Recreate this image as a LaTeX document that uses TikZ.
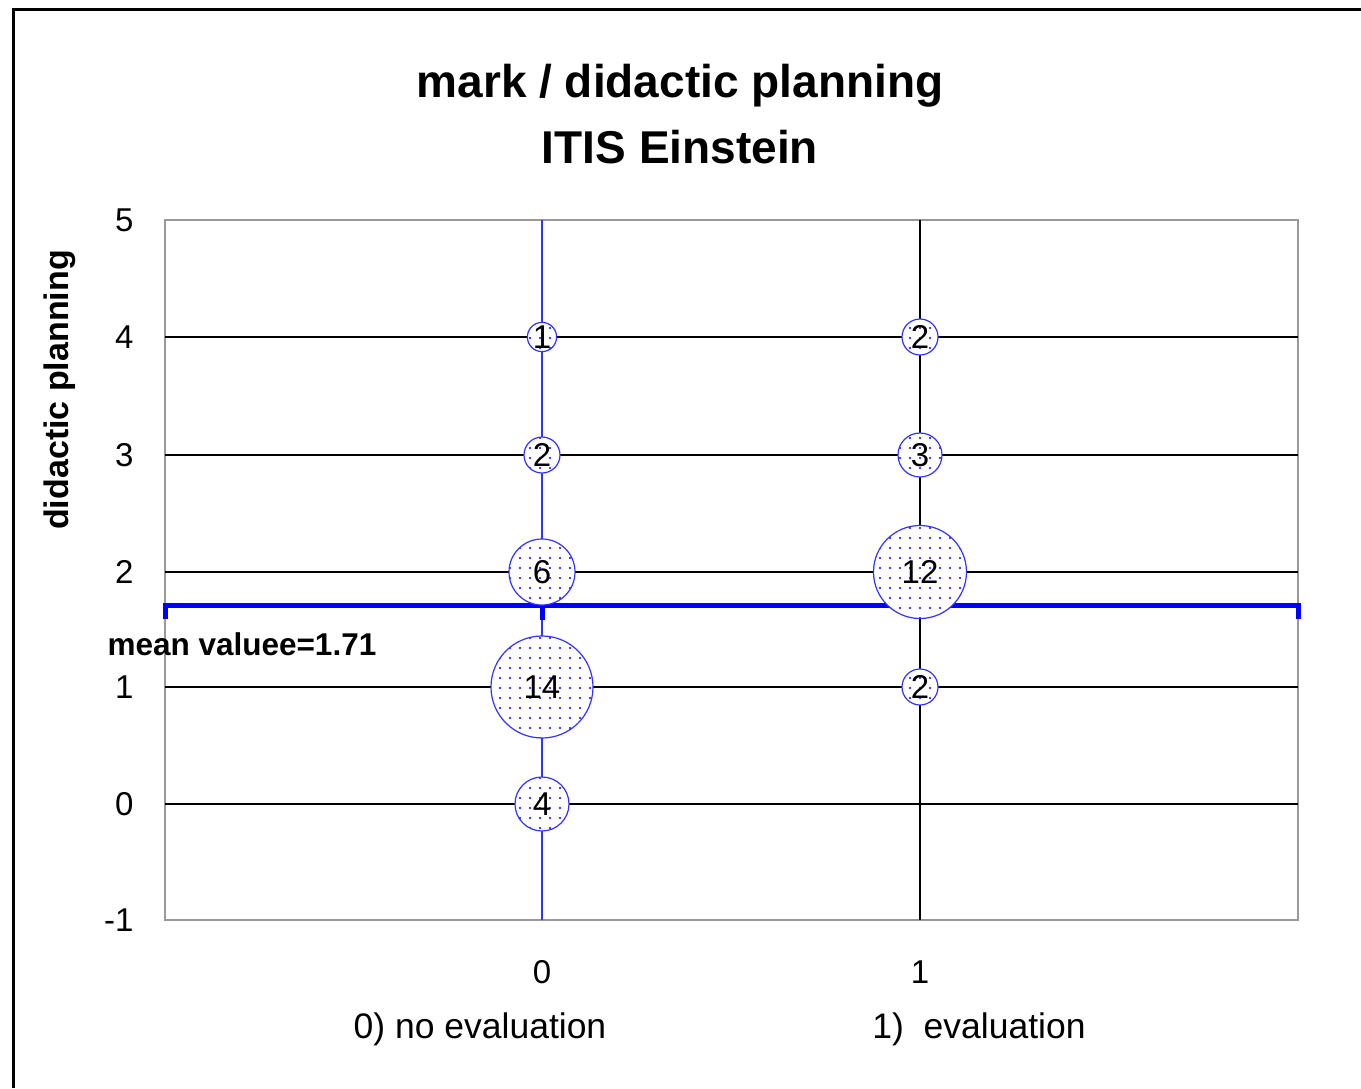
\documentclass[tikz,border=0pt]{standalone}
\usepackage{fontspec}
\setmainfont{Liberation Sans}
\usetikzlibrary{patterns.meta}
\begin{document}
\begin{tikzpicture}[x=1pt,y=-1pt,
  grid/.style={black, line width=1.3pt},
  bubble/.style={circle, draw=blue!80!white, line width=1.2pt, inner sep=0pt,
    preaction={fill=white}, pattern={Dots[radius=1.2pt,distance=10pt]}, pattern color=blue,
    font=\fontsize{33}{33}\selectfont},
  ticklab/.style={font=\fontsize{33}{33}\selectfont},
  catlab/.style={font=\fontsize{35.5}{35.5}\selectfont},
  meanline/.style={blue, line width=5pt}]
\useasboundingbox (0,0) rectangle (1361,1088);
\fill[white] (0,0) rectangle (1361,1088);
% outer frame
\draw[black, line width=3pt] (13,1088) -- (13,9) -- (1361,9);
% title
\node (title) at (680,86) {\fontsize{46}{46}\selectfont\bfseries mark / didactic planning};
\node (title2) at (680,147) {\fontsize{46}{46}\selectfont\bfseries ITIS Einstein};
% plot area
\draw[gray!80, line width=1.5pt] (165,220) rectangle (1298,920);
% horizontal gridlines
\foreach \v/\y in {4/337,3/455,2/572,1/687,0/804}{
  \draw[grid] (165,\y) -- (1298,\y);
}
\draw[blue!80!white, line width=1.3pt] (542,220) -- (542,920);
\draw[grid] (920,220) -- (920,920);
% y tick labels
\foreach \v/\y in {5/220,4/337,3/455,2/572,1/687,0/804,-1/920}{
  \node[ticklab, anchor=east] (yl\v) at (137,\y) {\v};
}
\node[rotate=90, font=\fontsize{34}{34}\selectfont\bfseries] (ytitle) at (60,390) {didactic planning};
% x labels
\node[ticklab] (x0) at (542,972) {0};
\node[ticklab] (x1) at (920,972) {1};
\node[catlab] (c0) at (480,1029) {0) no evaluation};
\node[catlab] (c1) at (979,1029) {1)\ \ evaluation};
% mean line
\coordinate (mL) at (165,605);
\coordinate (mR) at (1298,605);
\draw[meanline] (165,619) -- (mL) -- (mR) -- (1298,619);
\draw[meanline] (542,605) -- (542,620);
\node[anchor=west, font=\fontsize{31.5}{31.5}\selectfont\bfseries] (meanlab) at (104,644) {mean valuee=1.71};
% bubbles
\node[bubble, minimum size=28pt] (b04) at (542,337) {1};
\node[bubble, minimum size=36pt] (b03) at (542,455) {2};
\node[bubble, minimum size=66pt] (b02) at (542,572) {6};
\node[bubble, minimum size=102pt] (b01) at (542,687) {14};
\node[bubble, minimum size=54pt] (b00) at (542,804) {4};
\node[bubble, minimum size=36pt] (b14) at (920,337) {2};
\node[bubble, minimum size=44pt] (b13) at (920,455) {3};
\node[bubble, minimum size=93pt] (b12) at (920,572) {12};
\node[bubble, minimum size=36pt] (b11) at (920,687) {2};
\end{tikzpicture}
\end{document}
